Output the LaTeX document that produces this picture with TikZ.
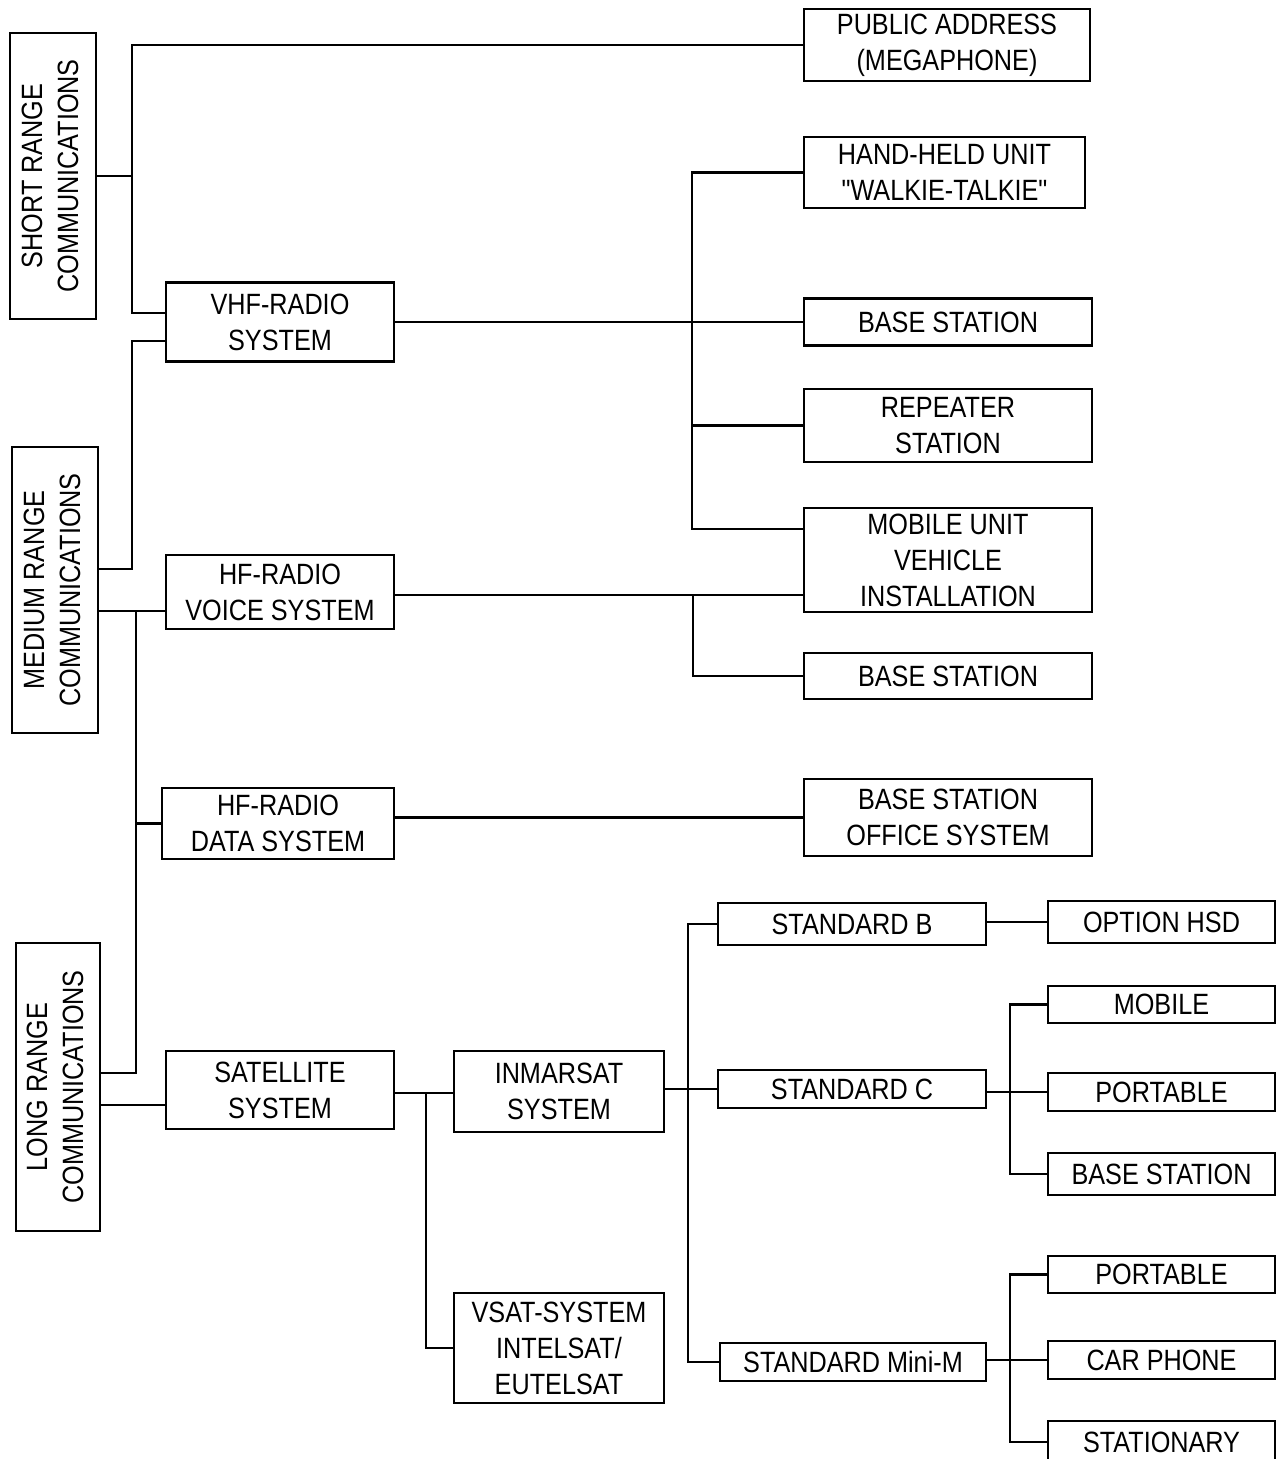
\documentclass[tikz,border=0pt]{standalone}
\usepackage{fontspec}
\usepackage{graphicx}
\usetikzlibrary{positioning}
\setmainfont[FakeStretch=0.86,Ligatures=TeXOff]{Liberation Sans}
\newcommand{\boxfont}{\fontsize{16.7}{20.5}\selectfont}
\newcommand{\sidelabel}[2]{\rotatebox{90}{\begin{tabular}{@{}c@{}}#1\\#2\end{tabular}}}

\begin{document}
\begin{tikzpicture}[
    x=0.02cm,y=-0.02cm,
    box/.style={rectangle,draw,line width=1.2pt,inner sep=0pt,align=center,font=\boxfont},
    sz/.style 2 args={minimum width=#1*0.02cm,minimum height=#2*0.02cm},
    link/.style={line width=1.2pt}
  ]
    \useasboundingbox (0,0) rectangle (1285,1459);

    \node[box,sz={86}{286}] (short) at (53,176) {\sidelabel{SHORT RANGE}{COMMUNICATIONS}};
    \node[box,sz={86}{286}] (medium) at (55,590) {\sidelabel{MEDIUM RANGE}{COMMUNICATIONS}};
    \node[box,sz={84}{288}] (long) at (58,1087) {\sidelabel{LONG RANGE}{COMMUNICATIONS}};

    \node[box,sz={228}{79}] (vhf) at (280,322) {VHF-RADIO\\SYSTEM};
    \node[box,sz={228}{74}] (hfvoice) at (280,592) {HF-RADIO\\VOICE SYSTEM};
    \node[box,sz={232}{71}] (hfdata) at (278,823.5) {HF-RADIO\\DATA SYSTEM};
    \node[box,sz={228}{78}] (sat) at (280,1090) {SATELLITE\\SYSTEM};

    \node[box,sz={286}{72}] (public) at (947,45) {PUBLIC ADDRESS\\(MEGAPHONE)};
    \node[box,sz={281}{71}] (handheld) at (944.5,172.5) {HAND-HELD UNIT\\"WALKIE-TALKIE"};
    \node[box,sz={288}{47}] (vhfbase) at (948,322) {BASE STATION};
    \node[box,sz={288}{73}] (repeater) at (948,425.5) {REPEATER\\STATION};
    \node[box,sz={288}{104}] (mobunit) at (948,560) {MOBILE UNIT\\VEHICLE\\INSTALLATION};
    \node[box,sz={288}{46}] (hfbase) at (948,676) {BASE STATION};
    \node[box,sz={288}{77}] (office) at (948,817.5) {BASE STATION\\OFFICE SYSTEM};

    \node[box,sz={210}{81}] (inmarsat) at (559,1091.5) {INMARSAT\\SYSTEM};
    \node[box,sz={210}{110}] (vsat) at (559,1348) {VSAT-SYSTEM\\INTELSAT/\\EUTELSAT};
    \node[box,sz={268}{42}] (stdb) at (852,924) {STANDARD B};
    \node[box,sz={268}{38}] (stdc) at (852,1089) {STANDARD C};
    \node[box,sz={266}{38}] (stdm) at (853,1362) {STANDARD Mini-M};

    \node[box,sz={227}{42}] (hsd) at (1161.5,922) {OPTION HSD};
    \node[box,sz={227}{37}] (cmobile) at (1161.5,1004.5) {MOBILE};
    \node[box,sz={227}{38}] (cportable) at (1161.5,1092) {PORTABLE};
    \node[box,sz={227}{42}] (cbase) at (1161.5,1174) {BASE STATION};
    \node[box,sz={227}{37}] (mportable) at (1161.5,1274.5) {PORTABLE};
    \node[box,sz={227}{38}] (mcar) at (1161.5,1360) {CAR PHONE};
    \node[box,sz={227}{42}] (mstat) at (1161.5,1442) {STATIONARY};

    \coordinate (shortjoin) at (132,176);
    \coordinate (vhfin) at (166,313);
    \coordinate (vhfin2) at (166,341);
    \coordinate (medout) at (98,569);
    \coordinate (medout2) at (98,611);
    \coordinate (hfvin) at (166,611);
    \coordinate (medjoin) at (136,611);
    \coordinate (longout) at (100,1073);
    \coordinate (longout2) at (100,1105);
    \coordinate (satin) at (166,1105);
    \coordinate (vhfjoin) at (692,322);
    \coordinate (mobin) at (804,529);
    \coordinate (hfvout) at (394,595);
    \coordinate (mobin2) at (804,595);
    \coordinate (hfvjoin) at (693,595);
    \coordinate (satout) at (394,1093);
    \coordinate (inmin) at (454,1093);
    \coordinate (satjoin) at (426,1093);
    \coordinate (inmjoin) at (688,1089);
    \coordinate (cjoin) at (1010,1092);
    \coordinate (mjoin) at (1010,1360);

    \draw[link] (short.east) -- (shortjoin);
    \draw[link] (public.west) -- (public.west -| shortjoin) -- (shortjoin |- vhfin) -- (vhfin);
    \draw[link] (vhfin2) -- (vhfin2 -| shortjoin) -- (shortjoin |- medout) -- (medout);
    \draw[link] (medout2) -- (hfvin);
    \draw[link] (medjoin) -- (medjoin |- longout) -- (longout);
    \draw[link] (medjoin |- hfdata.west) -- (hfdata.west);
    \draw[link] (longout2) -- (satin);

    \draw[link] (vhf.east) -- (vhfbase.west);
    \draw[link] (handheld.west) -| (vhfjoin) |- (mobin);
    \draw[link] (repeater.west) -- (repeater.west -| vhfjoin);
    \draw[link] (hfvout) -- (mobin2);
    \draw[link] (hfvjoin) |- (hfbase.west);
    \draw[link] (hfdata.east |- office.west) -- (office.west);

    \draw[link] (satout) -- (inmin);
    \draw[link] (satjoin) |- (vsat.west);
    \draw[link] (inmarsat.east |- stdc.west) -- (stdc.west);
    \draw[link] (stdb.west) -| (inmjoin) |- (stdm.west);
    \draw[link] (stdb.east |- hsd.west) -- (hsd.west);
    \draw[link] (stdc.east |- cportable.west) -- (cportable.west);
    \draw[link] (cmobile.west) -| (cjoin) |- (cbase.west);
    \draw[link] (stdm.east |- mcar.west) -- (mcar.west);
    \draw[link] (mportable.west) -| (mjoin) |- (mstat.west);
  \end{tikzpicture}
\end{document}
